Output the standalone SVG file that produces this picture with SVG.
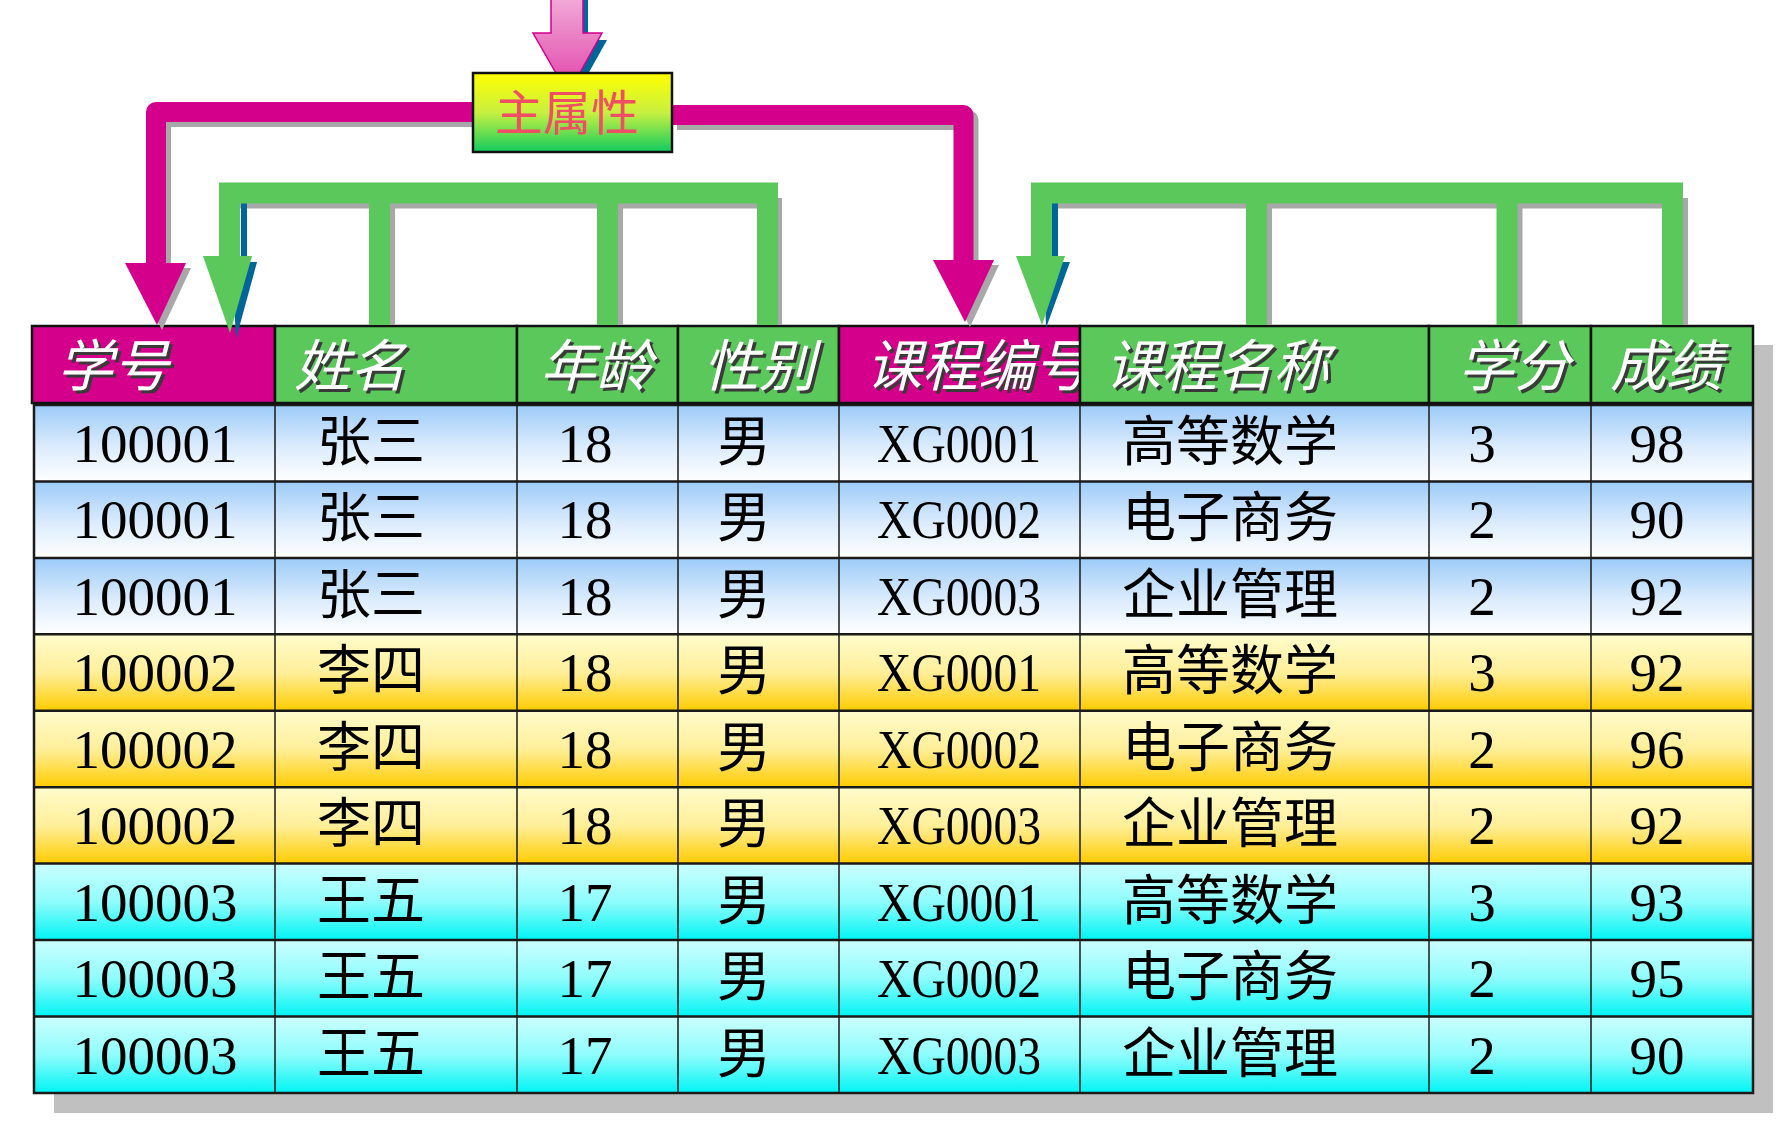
<svg xmlns="http://www.w3.org/2000/svg" width="1788" height="1130" viewBox="0 0 1788 1130">
<defs>
<linearGradient id="gBlue" x1="0" y1="0" x2="0" y2="1"><stop offset="0" stop-color="#9ccbf9"/><stop offset="0.55" stop-color="#dcecfd"/><stop offset="1" stop-color="#ffffff"/></linearGradient>
<linearGradient id="gYellow" x1="0" y1="0" x2="0" y2="1"><stop offset="0" stop-color="#fffccc"/><stop offset="0.5" stop-color="#ffef9a"/><stop offset="1" stop-color="#ffcc00"/></linearGradient>
<linearGradient id="gCyan" x1="0" y1="0" x2="0" y2="1"><stop offset="0" stop-color="#ccffff"/><stop offset="0.5" stop-color="#8ffcfc"/><stop offset="1" stop-color="#00f4f4"/></linearGradient>
<linearGradient id="gBox" x1="0" y1="0" x2="0" y2="1"><stop offset="0" stop-color="#ffff00"/><stop offset="0.5" stop-color="#c8f040"/><stop offset="1" stop-color="#10cc60"/></linearGradient>
<linearGradient id="gPink" x1="0" y1="0" x2="0" y2="1"><stop offset="0" stop-color="#f2aad8"/><stop offset="1" stop-color="#e040a8"/></linearGradient>
</defs>
<style>
.num{font-family:"Liberation Serif","Times New Roman",serif;font-size:55px;text-anchor:middle;fill:#000}
.cjk{font-family:"Noto Sans CJK SC","Noto Sans CJK JP",sans-serif;font-size:54px;text-anchor:middle;fill:#000}
.hd{font-family:"Noto Sans CJK SC","Noto Sans CJK JP",sans-serif;font-size:56px;font-style:italic;fill:#fff}
.hds{font-family:"Noto Sans CJK SC","Noto Sans CJK JP",sans-serif;font-size:56px;font-style:italic;fill:#3a3a3a}
.cellM{fill:#d4008c;stroke:#111;stroke-width:2.5}
.cellG{fill:#5ac85a;stroke:#111;stroke-width:2.5}
.grid{stroke:#1a1a1a;stroke-width:1.5;fill:none}
.hline{stroke:#1a1a1a;stroke-width:2.5;fill:none}
.mag{fill:none;stroke:#d4008c;stroke-width:20;stroke-linejoin:round}
.magS{fill:none;stroke:#a8a8a8;stroke-width:20;stroke-linejoin:round}
.grn{fill:none;stroke:#5ac85a;stroke-width:21;stroke-linejoin:miter}
.grnS{fill:none;stroke:#a8a8a8;stroke-width:21;stroke-linejoin:miter}
</style>

<!-- table shadow -->
<rect x="54" y="345" width="1719" height="768" fill="#c0c0c0"/>

<!-- data rows -->
<g id="rows">
<rect x="34" y="405" width="1719" height="76.4" fill="url(#gBlue)"/>
<rect x="34" y="481.4" width="1719" height="76.5" fill="url(#gBlue)"/>
<rect x="34" y="557.9" width="1719" height="76.4" fill="url(#gBlue)"/>
<rect x="34" y="634.3" width="1719" height="76.5" fill="url(#gYellow)"/>
<rect x="34" y="710.8" width="1719" height="76.4" fill="url(#gYellow)"/>
<rect x="34" y="787.2" width="1719" height="76.4" fill="url(#gYellow)"/>
<rect x="34" y="863.6" width="1719" height="76.5" fill="url(#gCyan)"/>
<rect x="34" y="940.1" width="1719" height="76.5" fill="url(#gCyan)"/>
<rect x="34" y="1016.6" width="1719" height="76.4" fill="url(#gCyan)"/>
<path class="grid" d="M275,405V1093M517,405V1093M678,405V1093M839,405V1093M1080,405V1093M1429,405V1093M1591,405V1093"/>
<path class="hline" d="M34,481.4H1753M34,557.9H1753M34,634.3H1753M34,710.8H1753M34,787.2H1753M34,863.6H1753M34,940.1H1753M34,1016.6H1753"/>
<rect x="34" y="405" width="1719" height="688" fill="none" stroke="#1a1a1a" stroke-width="2.5"/>
</g>

<g id="row-1">
<text class="num" x="155" y="462">100001</text><text class="cjk" x="371" y="461">张三</text><text class="num" x="585" y="462">18</text><text class="cjk" x="744" y="461">男</text><text class="num" x="959" y="462" textLength="164" lengthAdjust="spacingAndGlyphs">XG0001</text><text class="cjk" x="1230" y="461">高等数学</text><text class="num" x="1482" y="462">3</text><text class="num" x="1657" y="462">98</text>
</g>
<g id="row-2">
<text class="num" x="155" y="538.4">100001</text><text class="cjk" x="371" y="537.4">张三</text><text class="num" x="585" y="538.4">18</text><text class="cjk" x="744" y="537.4">男</text><text class="num" x="959" y="538.4" textLength="164" lengthAdjust="spacingAndGlyphs">XG0002</text><text class="cjk" x="1230" y="537.4">电子商务</text><text class="num" x="1482" y="538.4">2</text><text class="num" x="1657" y="538.4">90</text>
</g>
<g id="row-3">
<text class="num" x="155" y="614.9">100001</text><text class="cjk" x="371" y="613.9">张三</text><text class="num" x="585" y="614.9">18</text><text class="cjk" x="744" y="613.9">男</text><text class="num" x="959" y="614.9" textLength="164" lengthAdjust="spacingAndGlyphs">XG0003</text><text class="cjk" x="1230" y="613.9">企业管理</text><text class="num" x="1482" y="614.9">2</text><text class="num" x="1657" y="614.9">92</text>
</g>
<g id="row-4">
<text class="num" x="155" y="691.3">100002</text><text class="cjk" x="371" y="690.3">李四</text><text class="num" x="585" y="691.3">18</text><text class="cjk" x="744" y="690.3">男</text><text class="num" x="959" y="691.3" textLength="164" lengthAdjust="spacingAndGlyphs">XG0001</text><text class="cjk" x="1230" y="690.3">高等数学</text><text class="num" x="1482" y="691.3">3</text><text class="num" x="1657" y="691.3">92</text>
</g>
<g id="row-5">
<text class="num" x="155" y="767.8">100002</text><text class="cjk" x="371" y="766.8">李四</text><text class="num" x="585" y="767.8">18</text><text class="cjk" x="744" y="766.8">男</text><text class="num" x="959" y="767.8" textLength="164" lengthAdjust="spacingAndGlyphs">XG0002</text><text class="cjk" x="1230" y="766.8">电子商务</text><text class="num" x="1482" y="767.8">2</text><text class="num" x="1657" y="767.8">96</text>
</g>
<g id="row-6">
<text class="num" x="155" y="844.2">100002</text><text class="cjk" x="371" y="843.2">李四</text><text class="num" x="585" y="844.2">18</text><text class="cjk" x="744" y="843.2">男</text><text class="num" x="959" y="844.2" textLength="164" lengthAdjust="spacingAndGlyphs">XG0003</text><text class="cjk" x="1230" y="843.2">企业管理</text><text class="num" x="1482" y="844.2">2</text><text class="num" x="1657" y="844.2">92</text>
</g>
<g id="row-7">
<text class="num" x="155" y="920.6">100003</text><text class="cjk" x="371" y="919.6">王五</text><text class="num" x="585" y="920.6">17</text><text class="cjk" x="744" y="919.6">男</text><text class="num" x="959" y="920.6" textLength="164" lengthAdjust="spacingAndGlyphs">XG0001</text><text class="cjk" x="1230" y="919.6">高等数学</text><text class="num" x="1482" y="920.6">3</text><text class="num" x="1657" y="920.6">93</text>
</g>
<g id="row-8">
<text class="num" x="155" y="997.1">100003</text><text class="cjk" x="371" y="996.1">王五</text><text class="num" x="585" y="997.1">17</text><text class="cjk" x="744" y="996.1">男</text><text class="num" x="959" y="997.1" textLength="164" lengthAdjust="spacingAndGlyphs">XG0002</text><text class="cjk" x="1230" y="996.1">电子商务</text><text class="num" x="1482" y="997.1">2</text><text class="num" x="1657" y="997.1">95</text>
</g>
<g id="row-9">
<text class="num" x="155" y="1073.6">100003</text><text class="cjk" x="371" y="1072.6">王五</text><text class="num" x="585" y="1073.6">17</text><text class="cjk" x="744" y="1072.6">男</text><text class="num" x="959" y="1073.6" textLength="164" lengthAdjust="spacingAndGlyphs">XG0003</text><text class="cjk" x="1230" y="1072.6">企业管理</text><text class="num" x="1482" y="1073.6">2</text><text class="num" x="1657" y="1073.6">90</text>
</g>

<!-- header cells -->
<g id="h-xuehao"><rect class="cellM" x="32" y="326" width="243" height="77"/><text class="hds" x="60" y="389">学号</text><text class="hd" x="57" y="386">学号</text></g>
<g id="h-xingming"><rect class="cellG" x="275" y="326" width="242" height="77"/><text class="hds" x="297" y="389">姓名</text><text class="hd" x="294" y="386">姓名</text></g>
<g id="h-nianling"><rect class="cellG" x="517" y="326" width="161" height="77"/><text class="hds" x="543" y="389">年龄</text><text class="hd" x="540" y="386">年龄</text></g>
<g id="h-xingbie"><rect class="cellG" x="678" y="326" width="161" height="77"/><text class="hds" x="706" y="389">性别</text><text class="hd" x="703" y="386">性别</text></g>
<g id="h-kechengbianhao"><rect class="cellM" x="839" y="326" width="241" height="77"/><text class="hds" x="869" y="389">课程编号</text><text class="hd" x="866" y="386">课程编号</text></g>
<g id="h-kechengmingcheng"><rect class="cellG" x="1080" y="326" width="349" height="77"/><text class="hds" x="1108" y="389">课程名称</text><text class="hd" x="1105" y="386">课程名称</text></g>
<g id="h-xuefen"><rect class="cellG" x="1429" y="326" width="162" height="77"/><text class="hds" x="1461" y="389">学分</text><text class="hd" x="1458" y="386">学分</text></g>
<g id="h-chengji"><rect class="cellG" x="1591" y="326" width="162" height="77"/><text class="hds" x="1613" y="389">成绩</text><text class="hd" x="1610" y="386">成绩</text></g>

<g id="connectors">
<!-- incoming pink arrow -->
<polygon points="556,0 588,0 588,40 607,40 573,101 538,40 556,40" fill="#00669a"/>
<polygon points="551,-2 583,-2 583,33 602,33 568,94 533,33 551,33" fill="url(#gPink)" stroke="#d0008c" stroke-width="1.5"/>

<!-- magenta left -->
<path class="magS" d="M478,117H161V268"/>
<polygon points="130,268 191,268 162,330" fill="#a8a8a8"/>
<path class="mag" d="M473,112H156V265"/>
<polygon points="125,263 186,263 157,325" fill="#d4008c"/>
<!-- magenta right -->
<path class="magS" d="M677,120H968.5V265"/>
<polygon points="938,265 999,265 970,327" fill="#a8a8a8"/>
<path class="mag" d="M672,115H963.5V262"/>
<polygon points="933,260 994,260 965,322" fill="#d4008c"/>

<!-- green left group -->
<path class="grnS" d="M771.5,198V325M384.5,198V325M612.5,198V325M234.5,198H772.5"/>
<path fill="#00669a" d="M241,203H247V262H257L236,339L232,262H241Z"/>
<path class="grn" d="M229.5,258V193H767.5V325M379.5,193V325M607.5,193V325"/>
<polygon points="203,256 252,256 230,333" fill="#5ac85a"/>
<!-- green right group -->
<path class="grnS" d="M1677.5,198V325M1261.5,198V325M1512,198V325M1046.5,198H1678.5"/>
<path fill="#00669a" d="M1052,203H1058V262H1070L1046,328L1044,262H1052Z"/>
<path class="grn" d="M1041.5,258V193H1672.5V325M1256.5,193V325M1507,193V325"/>
<polygon points="1016,256 1065,256 1042,325" fill="#5ac85a"/>
</g>

<!-- main attribute box -->
<g id="box-main">
<rect x="473" y="73" width="199" height="79" fill="url(#gBox)" stroke="#111" stroke-width="2.5"/>
<text x="567" y="130" font-family="Noto Sans CJK SC, Noto Sans CJK JP, sans-serif" font-size="48" fill="#f04e64" text-anchor="middle">主属性</text>
</g>
</svg>
